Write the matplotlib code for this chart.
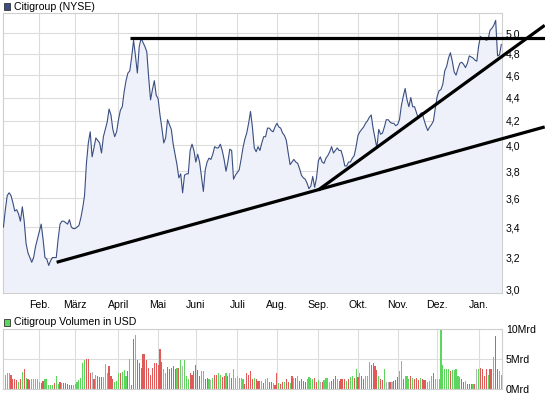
import numpy as np
import pandas as pd
import matplotlib
matplotlib.use("Agg")
import matplotlib.pyplot as plt
from matplotlib.patches import Rectangle

# ---------------- data ----------------
holidays = ['2010-01-18', '2010-02-15', '2010-04-02', '2010-05-31', '2010-07-05',
            '2010-09-06', '2010-11-25', '2010-12-24', '2011-01-17']
first_day = '2010-01-04'

price = [
    3.40, 3.52, 3.62, 3.64, 3.62, 3.57, 3.51, 3.52, 3.49, 3.44,
    3.54, 3.44, 3.29, 3.23, 3.20, 3.17, 3.20, 3.27, 3.32, 3.37,
    3.42, 3.32, 3.20, 3.19, 3.15, 3.18, 3.20, 3.20, 3.20, 3.32,
    3.42, 3.44, 3.44, 3.43, 3.42, 3.45, 3.40, 3.39, 3.39, 3.40,
    3.41, 3.46, 3.53, 3.62, 3.86, 4.02, 4.11, 3.91, 3.98, 4.06,
    4.04, 4.02, 3.94, 4.07, 4.13, 4.19, 4.30, 4.25, 4.13, 4.07,
    4.11, 4.21, 4.29, 4.32, 4.45, 4.55, 4.62, 4.64, 4.77, 4.93,
    4.78, 4.62, 4.87, 4.95, 4.91, 4.87, 4.82, 4.58, 4.38, 4.47,
    4.55, 4.42, 4.39, 4.25, 4.14, 4.02, 4.06, 4.21, 4.17, 4.13,
    4.01, 3.93, 3.85, 3.75, 3.78, 3.64, 3.77, 3.78, 3.78, 3.96,
    4.01, 3.96, 3.87, 3.93, 3.87, 3.76, 3.65, 3.81, 3.87, 3.90,
    3.89, 3.93, 3.99, 3.98, 3.98, 4.01, 3.96, 3.89, 3.80, 3.87,
    3.97, 3.96, 3.74, 3.77, 3.79, 3.81, 3.89, 3.98, 4.05, 4.10,
    4.18, 4.28, 4.15, 3.98, 3.95, 3.99, 3.96, 4.02, 4.07, 4.07,
    4.14, 4.14, 4.12, 4.11, 4.15, 4.18, 4.15, 4.14, 4.10, 4.08,
    4.04, 3.94, 3.85, 3.87, 3.89, 3.87, 3.86, 3.82, 3.77, 3.75,
    3.74, 3.71, 3.67, 3.69, 3.76, 3.68, 3.75, 3.88, 3.91, 3.87,
    3.86, 3.90, 3.92, 3.95, 3.99, 3.94, 3.96, 3.98, 3.96, 3.96,
    3.91, 3.84, 3.84, 3.87, 3.87, 3.90, 3.92, 3.99, 4.08, 4.11,
    4.13, 4.15, 4.18, 4.20, 4.23, 4.25, 4.14, 4.06, 3.98, 4.13,
    4.09, 4.10, 4.15, 4.21, 4.21, 4.19, 4.18, 4.18, 4.16, 4.17,
    4.21, 4.33, 4.41, 4.48, 4.38, 4.32, 4.40, 4.32, 4.32, 4.27,
    4.22, 4.26, 4.27, 4.21, 4.16, 4.12, 4.15, 4.17, 4.20, 4.31,
    4.41, 4.46, 4.47, 4.52, 4.64, 4.68, 4.76, 4.81, 4.73, 4.63,
    4.60, 4.66, 4.71, 4.72, 4.70, 4.67, 4.71, 4.78, 4.77, 4.76,
    4.74, 4.73, 4.88, 4.97, 4.94, 4.95, 4.93, 4.94, 5.03, 5.05,
    5.08, 5.13, 4.78, 4.79, 4.89,
]

# volume in Mrd USD, and colour code per bar: g = up, r = down, n = unchanged
volume = [
    1.4, 2.4, 2.6, 2.6, 2.3, 1.7, 1.7, 1.5, 1.1, 1.7, 2.9,
    3.3, 1.9, 1.7, 1.5, 1.7, 1.7, 1.7, 1.7, 1.2, 1.0, 1.4, 1.6,
    1.6, 0.7, 0.7, 0.7, 1.0, 2.1, 0.9, 1.1, 1.0, 1.0, 1.0, 0.9,
    0.6, 0.6, 0.6, 0.9, 1.2, 1.5, 1.9, 4.4, 4.8, 5.1, 5.1, 2.7,
    2.9, 1.6, 2.4, 2.2, 2.0, 2.0, 2.0, 4.2, 2.6, 3.8, 2.1, 1.6,
    1.1, 1.4, 2.7, 2.7, 2.8, 3.1, 2.1, 3.0, 5.1, 0.6, 8.3,
    9.0, 4.9, 4.4, 3.5, 5.8, 5.8, 4.9, 3.5, 2.4, 3.5, 4.3, 4.3, 4.1, 6.7,
    4.5, 3.3, 2.7, 3.7, 3.4, 3.5, 3.9, 3.3, 3.5, 3.5, 4.9,
    3.9, 4.9, 2.2, 1.6, 2.7, 2.4, 3.0, 4.1, 3.1, 2.1, 3.0, 3.0,
    1.6, 1.9, 1.6, 1.5, 1.9, 2.4, 2.4, 2.7, 2.4, 2.0, 2.1, 2.7,
    2.1, 2.7, 1.9, 3.3, 1.9, 2.1, 1.9, 1.8, 1.6, 0.9, 2.6, 2.4,
    3.0, 1.6, 1.9, 1.6, 1.4, 1.3, 1.3, 1.0, 1.6, 1.9, 1.1, 1.1,
    1.0, 0.7, 2.6, 1.0, 0.9, 1.1, 1.1, 1.6, 1.1, 1.0, 2.1, 1.9,
    1.9, 2.1, 1.3, 1.6, 1.3, 1.1, 1.6, 2.0, 1.9, 1.6, 1.9, 1.1,
    1.5, 1.1, 1.1, 1.5, 1.9, 1.9, 1.1, 1.4, 1.6, 2.1, 1.6, 1.3,
    1.7, 1.7, 1.6, 1.3, 1.6, 2.0, 2.1, 1.9, 3.3, 2.0, 2.7, 2.1,
    1.7, 2.1, 2.1, 4.6, 4.1, 4.4, 3.8, 3.1, 2.1, 1.6, 1.5,
    3.3, 1.1, 1.1, 1.1, 1.1, 1.3, 1.5, 2.0, 3.0, 4.7, 1.6, 2.1, 2.2,
    1.6, 2.1, 1.9, 1.6, 1.9, 1.5, 1.9, 1.6, 1.5, 1.5, 1.1, 1.4,
    2.1, 2.6, 1.6, 1.6, 1.6, 10.0, 4.1, 3.3, 3.4, 3.4, 3.0, 3.1,
    3.1, 3.3, 2.1, 2.0, 1.6, 1.1, 1.4, 0.9, 0.9, 0.9, 0.9, 0.9, 3.3,
    3.4, 3.5, 3.4, 2.2, 3.3, 2.4, 3.3, 3.3, 5.4, 8.8, 3.4, 3.0, 2.4,
]
volume_dir = (
    "ggggrrrrgrg"
    "rgrrgggggrrg"
    "ggggrggrgrrr"
    "rrgggggggrrr"
    "nrgrrrgggrrr"
    "gggrgggrgrr"
    "grrrrrrrrrrrrr"
    "rggrrrrrgrg"
    "ngggrrrrrrgg"
    "rrgngrrggrrg"
    "rgrggngggrrr"
    "rrgrrrgrggrr"
    "grrgrrgrrgrg"
    "rgrrrrggggrr"
    "gnrgggnrrrgr"
    "rrrgrggrgrgr"
    "rgggrrrrgrr"
    "gnnrnrrrggrgg"
    "grgrrrgrrrgg"
    "grgnggggggrg"
    "ggggrrgrrrgrn"
    "grrrrgrrgrrgg"
)

trend_lines = {
    'flat':  ([67, 287.0], [4.955, 4.955]),
    'long':  ([28.2, 287.0], [3.17, 4.15]),
    'steep': ([166.9, 287.0], [3.66, 5.08]),
}

month_labels = ['Feb.', 'März', 'April', 'Mai', 'Juni', 'Juli', 'Aug.',
                'Sep.', 'Okt.', 'Nov.', 'Dez.', 'Jan.']
price_ticks = [3.0, 3.2, 3.4, 3.6, 3.8, 4.0, 4.2, 4.4, 4.6, 4.8, 5.0]
vol_ticks = [0, 5, 10]
vol_tick_labels = ['0Mrd', '5Mrd', '10Mrd']

# ---------------- derived ----------------
dates = pd.bdate_range(first_day, periods=len(price), freq='C', holidays=holidays)
x = np.arange(len(price))
month_start = [i for i in range(1, len(dates)) if dates[i].month != dates[i - 1].month]

col_map = {'g': '#5cd65c', 'r': '#e05a5a', 'n': '#b4b4b4'}
vol_colors = [col_map[volume_dir[i]] if i < len(volume_dir) else '#b4b4b4'
              for i in range(len(volume))]

plt.rcParams['font.family'] = ['Liberation Sans', 'DejaVu Sans']
W, H = 545, 398
fig = plt.figure(figsize=(W / 100, H / 100), dpi=100)
fig.patch.set_facecolor('white')

grid_c = '#dcdcdc'
frame_c = '#cfcfcf'
fs = 7.6

def px_axes(left, top, right, bottom):
    return fig.add_axes([left / W, 1 - bottom / H, (right - left) / W, (bottom - top) / H])

# ---- price panel ----
ax = px_axes(2.7, 13.3, 501.7, 293)
ax.set_yscale('log')
ax.set_xlim(-0.4, 264.2)
ax.set_ylim(2.982, 5.203)
ax.fill_between(x, price, 2.9, color='#eef1f9', lw=0, zorder=1)
ax.plot(x, price, color='#3a4e82', lw=0.8, zorder=3)
ax.set_yticks(price_ticks)
ax.set_yticklabels([f"{v:.1f}".replace('.', ',') for v in price_ticks])
ax.yaxis.set_minor_locator(matplotlib.ticker.NullLocator())
ax.yaxis.tick_right()
ax.set_xticks(month_start)
ax.set_xticklabels(month_labels[:len(month_start)])
ax.tick_params(axis='both', length=0, labelsize=fs, colors='black')
ax.tick_params(axis='y', pad=3)
ax.tick_params(axis='x', pad=5)
ax.grid(True, color=grid_c, lw=0.8, zorder=0)
ax.set_axisbelow(True)
for s in ax.spines.values():
    s.set_color(frame_c)
    s.set_linewidth(0.8)

for key, (tx, ty) in trend_lines.items():
    ax.plot(tx, ty, color='black', lw=2.3, clip_on=False, zorder=5,
            solid_capstyle='butt')

# ---- volume panel ----
av = px_axes(2.7, 329.3, 501.7, 389)
av.bar(x[:len(volume)], volume, width=0.6, color=vol_colors, lw=0, zorder=2,
       antialiased=False)
av.set_xlim(-0.4, 264.2)
av.set_ylim(0, 10)
av.set_yticks(vol_ticks)
av.set_yticklabels(vol_tick_labels)
av.yaxis.tick_right()
av.set_xticks(month_start)
av.set_xticklabels([])
av.tick_params(axis='both', length=0, labelsize=fs, colors='black')
av.tick_params(axis='y', pad=3)
av.grid(True, color=grid_c, lw=0.8, zorder=0)
av.set_axisbelow(True)
for s in av.spines.values():
    s.set_color(frame_c)
    s.set_linewidth(0.8)

# ---- legends ----
def legend_box(y_top, face, label):
    fig.patches.append(Rectangle((3.5 / W, 1 - (y_top + 6.5) / H), 6.5 / W, 6.5 / H,
                                 transform=fig.transFigure, facecolor=face,
                                 edgecolor='#333333', lw=0.6))
    fig.text(14 / W, 1 - (y_top + 3.2) / H, label, fontsize=fs, va='center', ha='left')

legend_box(3.5, '#3a4e82', 'Citigroup (NYSE)')
legend_box(319, '#5cd65c', 'Citigroup Volumen in USD')

fig.savefig('out.png', dpi=100, facecolor='white')
